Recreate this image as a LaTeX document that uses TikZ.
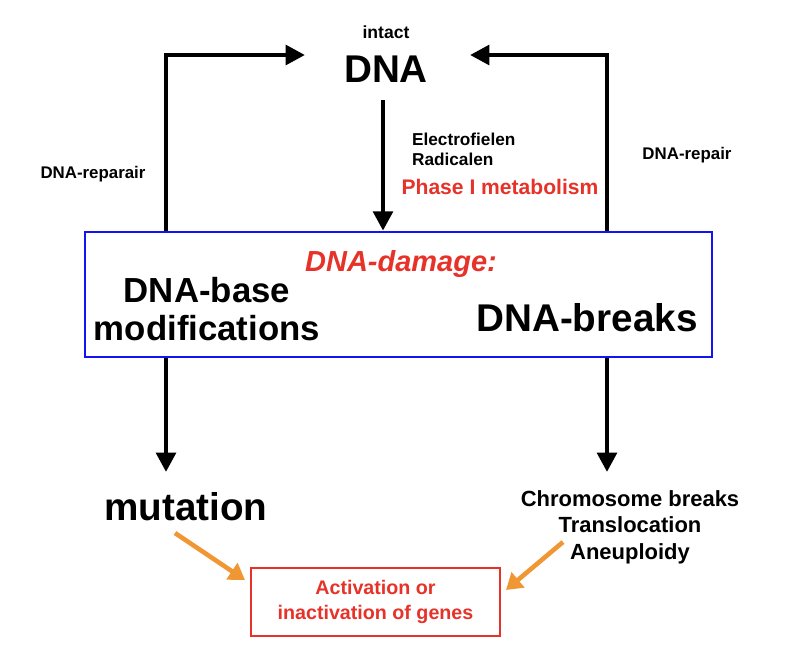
\documentclass[tikz,border=0pt]{standalone}
\usepackage{fontspec}
\setmainfont{Liberation Sans}
\usetikzlibrary{arrows.meta}
\definecolor{dmgred}{RGB}{230,50,40}
\definecolor{boxblue}{RGB}{20,20,240}
\definecolor{arrorange}{RGB}{240,150,50}
\begin{document}
\begin{tikzpicture}[x=0.02cm, y=-0.02cm,
    flow/.style={line width=2.6pt, -{Triangle[length=11pt,width=11pt]}},
    hint/.style={line width=2.6pt, arrorange, -{Triangle[length=9pt,width=11pt]}},
    lbl/.style={font=\bfseries, inner sep=1pt}
]
    \useasboundingbox (0,0) rectangle (806,656);
    % top
    \node[lbl, font=\bfseries\fontsize{10}{12}\selectfont] (intact) at (386,32) {intact};
    \node[lbl, font=\bfseries\fontsize{22}{26}\selectfont] (dna) at (386,69) {DNA};
    % damage box
    \node[draw=boxblue, line width=1.5pt, minimum width=12.54cm, minimum height=2.5cm] (damage) at (398.5,294.5) {};
    \node[lbl, dmgred, font=\bfseries\itshape\fontsize{16.5}{18}\selectfont] (dmg) at (401,264) {DNA-damage:};
    \node[lbl, align=center, font=\bfseries\fontsize{19.8}{22}\selectfont] (base) at (207,309) {DNA-base\\modifications};
    \node[lbl, font=\bfseries\fontsize{22}{26}\selectfont] (breaks) at (587,318) {DNA-breaks};
    % side labels
    \node[lbl, font=\bfseries\fontsize{9.6}{11}\selectfont] (rep1) at (93,174) {DNA-reparair};
    \node[lbl, font=\bfseries\fontsize{9.6}{11}\selectfont] (rep2) at (687,155) {DNA-repair};
    \node[lbl, anchor=west, align=left, font=\bfseries\fontsize{9.8}{11.5}\selectfont] (agents) at (410,149) {Electrofielen\\Radicalen};
    \node[lbl, dmgred, font=\bfseries\fontsize{12}{14}\selectfont] (phase) at (500,187) {Phase I metabolism};
    % outcomes
    \node[lbl, font=\bfseries\fontsize{22}{26}\selectfont] (mut) at (186,507) {mutation};
    \node[lbl, align=center, font=\bfseries\fontsize{12.5}{15}\selectfont] (chrom) at (630,527) {Chromosome breaks\\Translocation\\Aneuploidy};
    \node[draw=dmgred, line width=1.5pt, dmgred, align=center, minimum width=4.98cm, minimum height=1.36cm, font=\bfseries\fontsize{11.2}{14}\selectfont] (genes) at (375.5,602) {Activation or\\inactivation of genes};
    % connectors
    \coordinate (lt) at (166,55);
    \coordinate (rt) at (607,55);
    \draw[flow] (damage.north west -| lt) -- (lt) -- (305,55);
    \draw[flow] (damage.north west -| rt) -- (rt) -- (470,55);
    \draw[flow] (383,100) -- (damage.north -| 383,0);
    \draw[flow] (damage.south west -| lt) -- (166,472);
    \draw[flow] (damage.south west -| rt) -- (607,472);
    \draw[hint] (175,533) -- (245,580);
    \draw[hint] (563,542) -- (506,590);
\end{tikzpicture}
\end{document}
